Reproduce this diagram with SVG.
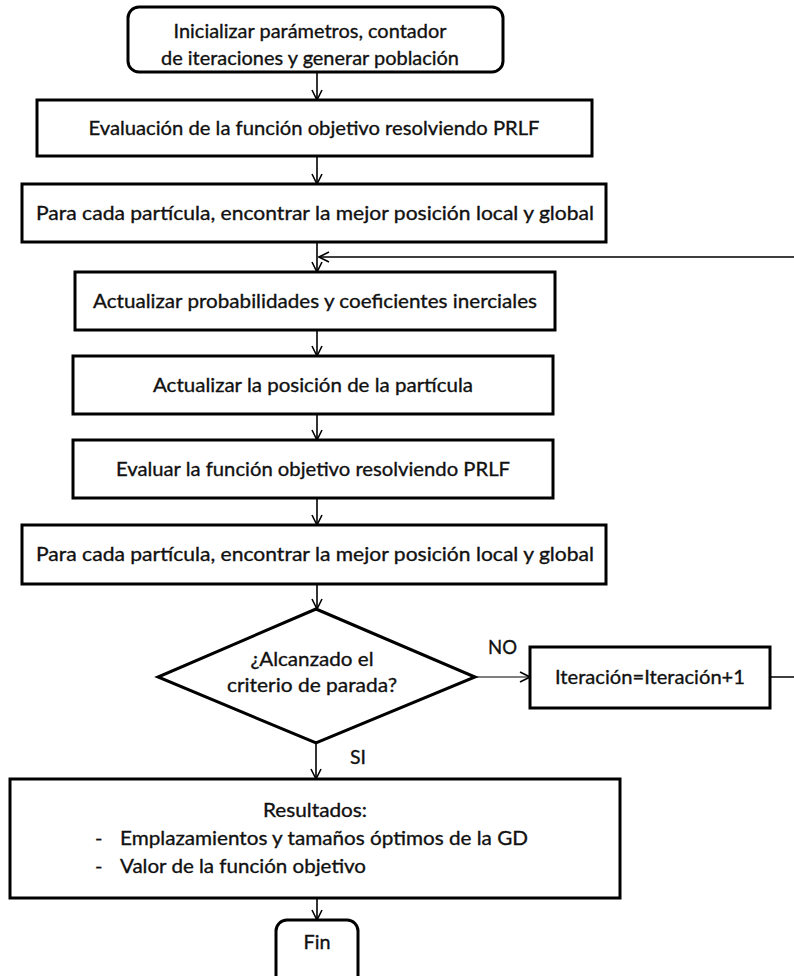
<svg xmlns="http://www.w3.org/2000/svg" width="794" height="976" viewBox="0 0 794 976">
  <defs>
    <style>
      .box { fill: #fff; stroke: #000; stroke-width: 3; }
      .lbl { font-family: Lato, "Liberation Sans", sans-serif; font-size: 20px; fill: #111; stroke: #111; stroke-width: 0.35; }
      .mid { text-anchor: middle; }
      .edge { fill: none; stroke: #000; stroke-width: 1.6; }
      .edge-grey { fill: none; stroke: #555; stroke-width: 1.6; }
    </style>
    <marker id="open" viewBox="0 0 12 12" refX="11" refY="6" markerWidth="12" markerHeight="12" markerUnits="userSpaceOnUse" orient="auto">
      <path d="M1,1 L11,6 L1,11" fill="none" stroke="#000" stroke-width="1.6"/>
    </marker>
  </defs>

  <rect width="794" height="976" fill="#fff"/>

  <!-- connectors -->
  <g id="connectors">
    <line class="edge" x1="317" y1="72" x2="317" y2="100" marker-end="url(#open)"/>
    <line class="edge" x1="317" y1="156" x2="317" y2="184" marker-end="url(#open)"/>
    <line class="edge" x1="317" y1="242" x2="317" y2="272" marker-end="url(#open)"/>
    <line class="edge" x1="317" y1="330" x2="317" y2="356" marker-end="url(#open)"/>
    <line class="edge" x1="317" y1="414" x2="317" y2="440" marker-end="url(#open)"/>
    <line class="edge" x1="317" y1="498" x2="317" y2="525" marker-end="url(#open)"/>
    <line class="edge" x1="317" y1="584" x2="317" y2="609" marker-end="url(#open)"/>
    <line class="edge-grey" x1="475" y1="677" x2="530" y2="677" marker-end="url(#open)"/>
    <line class="edge" x1="316" y1="743" x2="316" y2="779" marker-end="url(#open)"/>
    <line class="edge" x1="317" y1="898" x2="317" y2="920" marker-end="url(#open)"/>
    <!-- loop back from the counter to the update step -->
    <path class="edge" d="M770,677 H802 V257 H319" marker-end="url(#open)"/>
  </g>

  <g id="inicio">
    <rect class="box" x="128" y="7" width="375" height="65" rx="11"/>
    <text class="lbl mid" x="310" y="38" textLength="273" lengthAdjust="spacingAndGlyphs">Inicializar parámetros, contador</text>
    <text class="lbl mid" x="310" y="65" textLength="298" lengthAdjust="spacingAndGlyphs">de iteraciones y generar población</text>
  </g>

  <g id="evaluacion">
    <rect class="box" x="37" y="100" width="555" height="56"/>
    <text class="lbl mid" x="314" y="135" textLength="451" lengthAdjust="spacingAndGlyphs">Evaluación de la función objetivo resolviendo PRLF</text>
  </g>

  <g id="mejor-posicion-1">
    <rect class="box" x="22" y="184" width="584" height="58"/>
    <text class="lbl mid" x="315" y="220" textLength="558" lengthAdjust="spacingAndGlyphs">Para cada partícula, encontrar la mejor posición local y global</text>
  </g>

  <g id="actualizar-coef">
    <rect class="box" x="75" y="272" width="480" height="58"/>
    <text class="lbl mid" x="315" y="308" textLength="444" lengthAdjust="spacingAndGlyphs">Actualizar probabilidades y coeficientes inerciales</text>
  </g>

  <g id="actualizar-posicion">
    <rect class="box" x="73" y="356" width="480" height="58"/>
    <text class="lbl mid" x="313" y="392" textLength="320" lengthAdjust="spacingAndGlyphs">Actualizar la posición de la partícula</text>
  </g>

  <g id="evaluar">
    <rect class="box" x="73" y="440" width="480" height="58"/>
    <text class="lbl mid" x="313" y="476" textLength="394" lengthAdjust="spacingAndGlyphs">Evaluar la función objetivo resolviendo PRLF</text>
  </g>

  <g id="mejor-posicion-2">
    <rect class="box" x="22" y="525" width="584" height="59"/>
    <text class="lbl mid" x="315" y="561" textLength="558" lengthAdjust="spacingAndGlyphs">Para cada partícula, encontrar la mejor posición local y global</text>
  </g>

  <g id="criterio">
    <polygon class="box" points="316,609 475,677 316,743 158,677"/>
    <text class="lbl mid" x="312" y="666" textLength="123" lengthAdjust="spacingAndGlyphs">¿Alcanzado el</text>
    <text class="lbl mid" x="312" y="692" textLength="170" lengthAdjust="spacingAndGlyphs">criterio de parada?</text>
    <text class="lbl" x="488" y="654" textLength="29" lengthAdjust="spacingAndGlyphs">NO</text>
    <text class="lbl" x="350" y="764" textLength="16" lengthAdjust="spacingAndGlyphs">SI</text>
  </g>

  <g id="iteracion">
    <rect class="box" x="530" y="647" width="240" height="61"/>
    <text class="lbl mid" x="650" y="684" textLength="190" lengthAdjust="spacingAndGlyphs">Iteración=Iteración+1</text>
  </g>

  <g id="resultados">
    <rect class="box" x="10" y="779" width="610" height="119"/>
    <text class="lbl mid" x="315" y="817" textLength="104" lengthAdjust="spacingAndGlyphs">Resultados:</text>
    <text class="lbl" x="95" y="845">-</text>
    <text class="lbl" x="120" y="845" textLength="408" lengthAdjust="spacingAndGlyphs">Emplazamientos y tamaños óptimos de la GD</text>
    <text class="lbl" x="95" y="873">-</text>
    <text class="lbl" x="120" y="873" textLength="246" lengthAdjust="spacingAndGlyphs">Valor de la función objetivo</text>
  </g>

  <g id="fin">
    <rect class="box" x="276" y="920" width="82" height="70" rx="11"/>
    <text class="lbl mid" x="317" y="949" textLength="27" lengthAdjust="spacingAndGlyphs">Fin</text>
  </g>
</svg>
